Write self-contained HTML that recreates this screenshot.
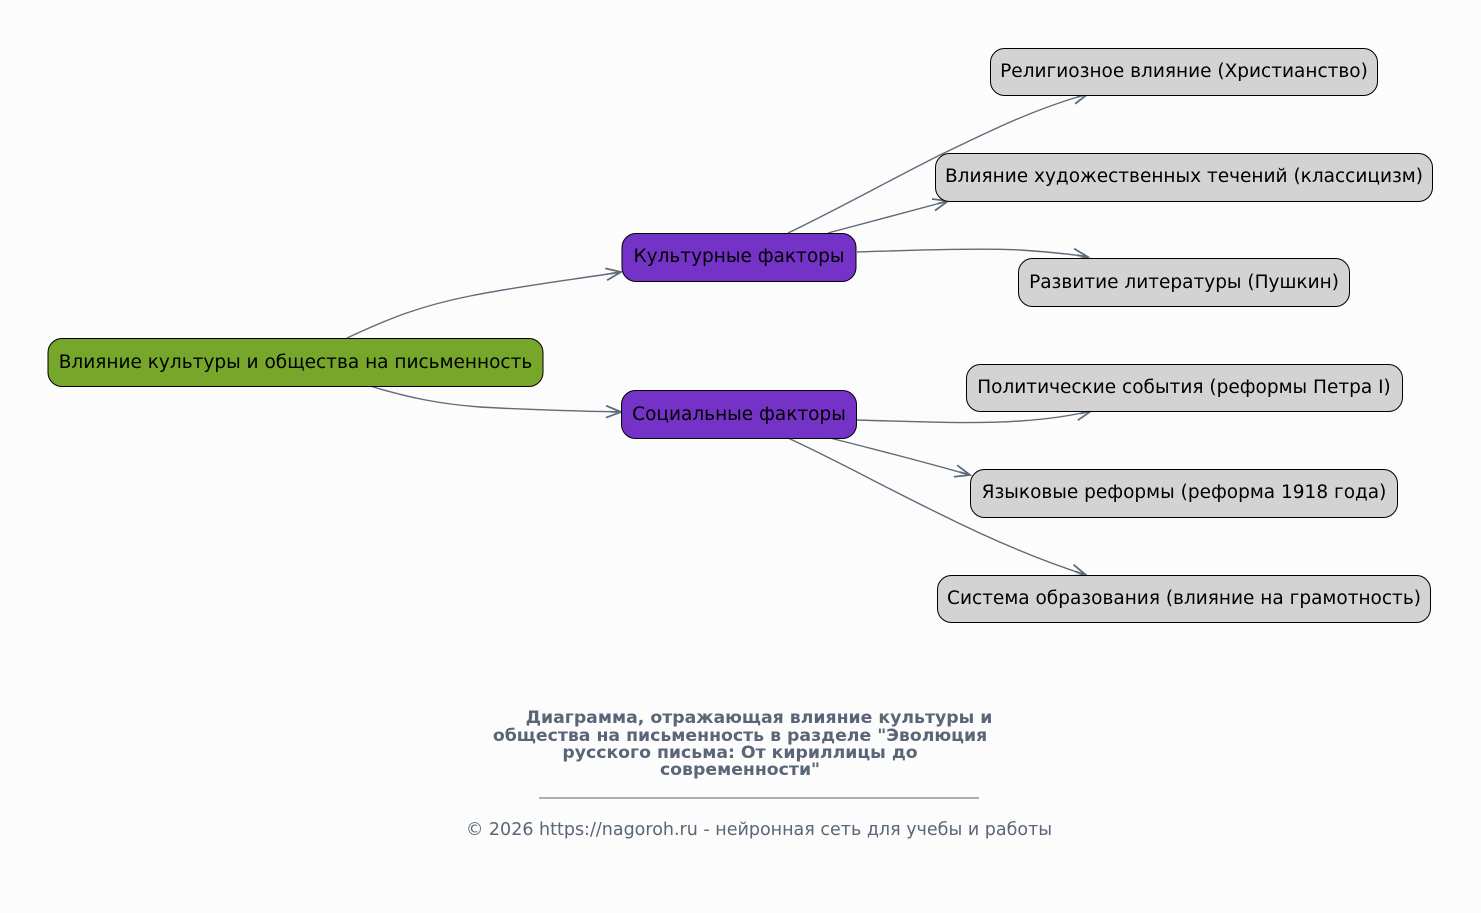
<!DOCTYPE html>
<html><head><meta charset="utf-8"><style>
html,body{margin:0;padding:0;background:#fcfcfc;}
svg{display:block;}
text{font-family:"DejaVu Sans","Liberation Sans",sans-serif;}
</style></head><body>
<svg width="1481" height="913" viewBox="0 0 1481 913" xmlns="http://www.w3.org/2000/svg">
<defs>
<marker id="a" markerWidth="20" markerHeight="14" refX="17" refY="7" orient="auto" markerUnits="userSpaceOnUse">
<path d="M2,1 L17,7 L2,13 M17,7 L6,7" fill="none" stroke="#5f6b7a" stroke-width="1.8"/>
</marker>
</defs>
<g fill="none" stroke="#5f6b7a" stroke-width="1.4" marker-end="url(#a)">
<path d="M347,338 C390,318 420,306 470,296 C520,286 570,280 621,272"/>
<path d="M370,386 C410,398 440,404 480,407 C530,410 570,411 621,412"/>
<path d="M788,233 C840,208 890,180 940,155 C980,136 1030,110 1088,94"/>
<path d="M828,233 C870,222 910,211 948,201"/>
<path d="M857,252 C920,250 980,248 1020,250 C1050,252 1070,254 1088,257"/>
<path d="M857,420 C920,422 980,424 1020,421 C1050,419 1070,416 1091,411"/>
<path d="M830,438 C870,448 920,461 970,475"/>
<path d="M788,438 C840,462 890,490 940,514 C980,534 1030,557 1086,575"/>
</g>
<g stroke="#000" stroke-width="1">
<rect x="48" y="338.5" width="495" height="48" rx="14" fill="#76a72a"/>
<rect x="622" y="233.5" width="234" height="48" rx="14" fill="#7433c6"/>
<rect x="621.5" y="390.5" width="235" height="48" rx="14" fill="#7433c6"/>
<rect x="990.5" y="48.5" width="387" height="47" rx="14" fill="#d3d3d3"/>
<rect x="935.5" y="153.5" width="497" height="48" rx="14" fill="#d3d3d3"/>
<rect x="1018.5" y="258.5" width="331" height="48" rx="14" fill="#d3d3d3"/>
<rect x="966.5" y="364.5" width="436" height="47" rx="14" fill="#d3d3d3"/>
<rect x="970.5" y="469.5" width="427" height="48" rx="14" fill="#d3d3d3"/>
<rect x="937.5" y="575.5" width="493" height="47" rx="14" fill="#d3d3d3"/>
</g>
<g font-size="18.5" fill="#000" text-anchor="middle">
<text x="295.5" y="368">Влияние культуры и общества на письменность</text>
<text x="739" y="262">Культурные факторы</text>
<text x="739" y="420">Социальные факторы</text>
<text x="1184" y="77">Религиозное влияние (Христианство)</text>
<text x="1184" y="182">Влияние художественных течений (классицизм)</text>
<text x="1184" y="288">Развитие литературы (Пушкин)</text>
<text x="1184" y="393">Политические события (реформы Петра I)</text>
<text x="1184" y="498">Языковые реформы (реформа 1918 года)</text>
<text x="1184" y="604">Система образования (влияние на грамотность)</text>
</g>
<g font-size="17.3" font-weight="bold" fill="#5a6677" text-anchor="middle">
<text x="759" y="723">Диаграмма, отражающая влияние культуры и</text>
<text x="740" y="741">общества на письменность в разделе "Эволюция</text>
<text x="740" y="758">русского письма: От кириллицы до</text>
<text x="740" y="775">современности"</text>
</g>
<line x1="539" y1="798" x2="979" y2="798" stroke="#5a6677" stroke-width="1"/>
<text x="759" y="835" font-size="17.5" fill="#5a6677" text-anchor="middle">© 2026 https://nagoroh.ru - нейронная сеть для учебы и работы</text>
</svg>
</body></html>
